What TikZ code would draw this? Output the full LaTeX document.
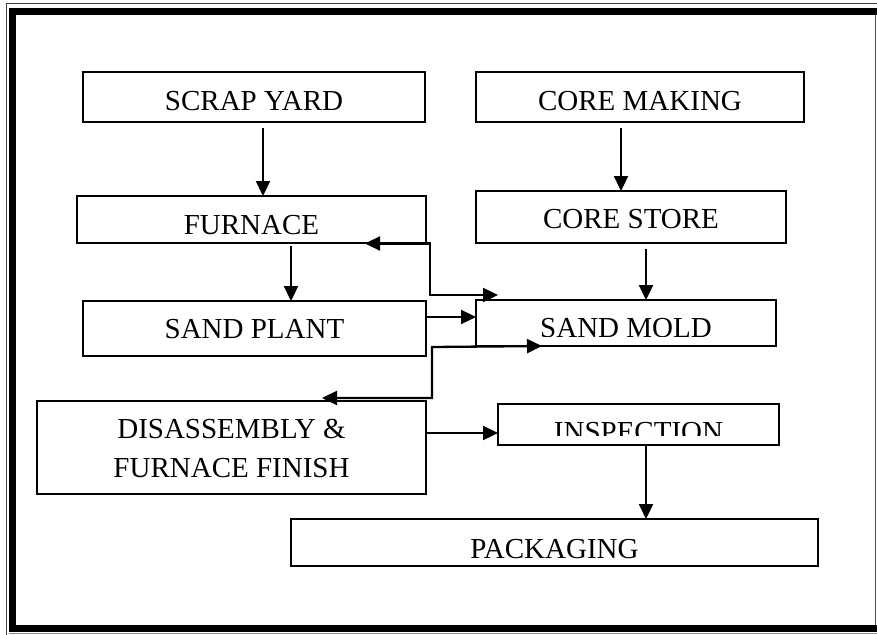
\documentclass[tikz,border=0pt]{standalone}
\usepackage{fontspec}
\setmainfont{Liberation Serif}
\usetikzlibrary{arrows.meta}
\begin{document}
\begin{tikzpicture}[x=1pt,y=-1pt,
  box/.style={draw,line width=1.2pt,rectangle,inner sep=0pt,outer sep=0pt},
  lbl/.style={font=\fontsize{29}{35}\selectfont,anchor=base,inner sep=0pt},
  conn/.style={line width=2.3pt},
  tipend/.style={-{Triangle[length=15pt,width=14pt]}},
  tipboth/.style={{Triangle[length=15pt,width=14pt]}-{Triangle[length=15pt,width=14pt]}}]
\useasboundingbox (0,0) rectangle (877,634);
\clip (0,0) rectangle (877,634);
% page border
\draw[line width=1pt,black!75] (6.5,640) -- (6.5,3.5) -- (890,3.5);
\draw[line width=7pt] (12.5,628.5) -- (12.5,11.5) -- (890,11.5);
\draw[line width=7pt] (9,628.5) -- (890,628.5);
\draw[line width=1pt,black!45] (9,633) -- (890,633);
\draw[line width=1pt,black!70] (875.8,15) -- (875.8,625);
% boxes
\node[box,minimum width=342pt,minimum height=50pt] (scrap) at (254,97) {};
\node[box,minimum width=328pt,minimum height=50pt] (coremk) at (640,97) {};
\node[box,minimum width=349pt,minimum height=47pt] (furnace) at (251.5,219.5) {};
\node[box,minimum width=310pt,minimum height=52pt] (corest) at (631,217) {};
\node[box,minimum width=343pt,minimum height=55pt] (sandpl) at (254.5,328.5) {};
\node[box,minimum width=300pt,minimum height=46pt] (sandmd) at (626,323) {};
\node[box,minimum width=389pt,minimum height=93pt] (disasm) at (231.5,447.5) {};
\node[box,minimum width=281pt,minimum height=41pt] (inspect) at (638.5,424.5) {};
\node[box,minimum width=527pt,minimum height=47pt] (pack) at (554.5,542.5) {};
% labels
\node[lbl] (tscrap) at (254,110) {SCRAP YARD};
\node[lbl] (tcoremk) at (640,110) {CORE MAKING};
\node[lbl] (tfurn) at (251.5,234) {FURNACE};
\node[lbl] (tcorest) at (631,228) {CORE STORE};
\node[lbl] (tsandpl) at (254.5,338) {SAND PLANT};
\begin{scope}
\clip (477,301) rectangle (775,336);
\node[lbl] (tsandmd) at (626,337) {SAND MOLD};
\end{scope}
\node[lbl] (tdis1) at (231.5,438) {DISASSEMBLY \&};
\node[lbl] (tdis2) at (231.5,477) {FURNACE FINISH};
\begin{scope}
\clip (499,405) rectangle (778,435);
\node[lbl] (tinsp) at (638.5,441) {INSPECTION};
\end{scope}
\node[lbl] (tpack) at (554.5,558) {PACKAGING};
% connector points
\coordinate (c1) at (263,128);
\coordinate (c2) at (621,128);
\coordinate (c3) at (291,246);
\coordinate (c4) at (646,249);
\coordinate (c5a) at (365,243.5);
\coordinate (c5b) at (430,295);
\coordinate (c5c) at (498,295);
\coordinate (c6) at (426,317);
\coordinate (c7a) at (322,398);
\coordinate (c7b) at (432,347);
\coordinate (c7c) at (542,346);
\coordinate (c8) at (426,433);
\coordinate (c9) at (646,445);
% connectors
\draw[conn,tipend] (c1) -- (c1 |- furnace.north);
\draw[conn,tipend] (c2) -- (c2 |- corest.north);
\draw[conn,tipend] (c3) -- (c3 |- sandpl.north);
\draw[conn,tipend] (c4) -- (c4 |- sandmd.north);
\draw[conn,tipboth] (c5a) -| (c5b) -- (c5c);
\draw[conn,tipend] (c6) -- (c6 -| sandmd.west);
\draw[conn,tipboth] (c7a) -| (c7b) -- (c7c);
\draw[conn,tipend] (c8) -- (c8 -| inspect.west);
\draw[conn,tipend] (c9) -- (c9 |- pack.north);
\end{tikzpicture}
\end{document}
